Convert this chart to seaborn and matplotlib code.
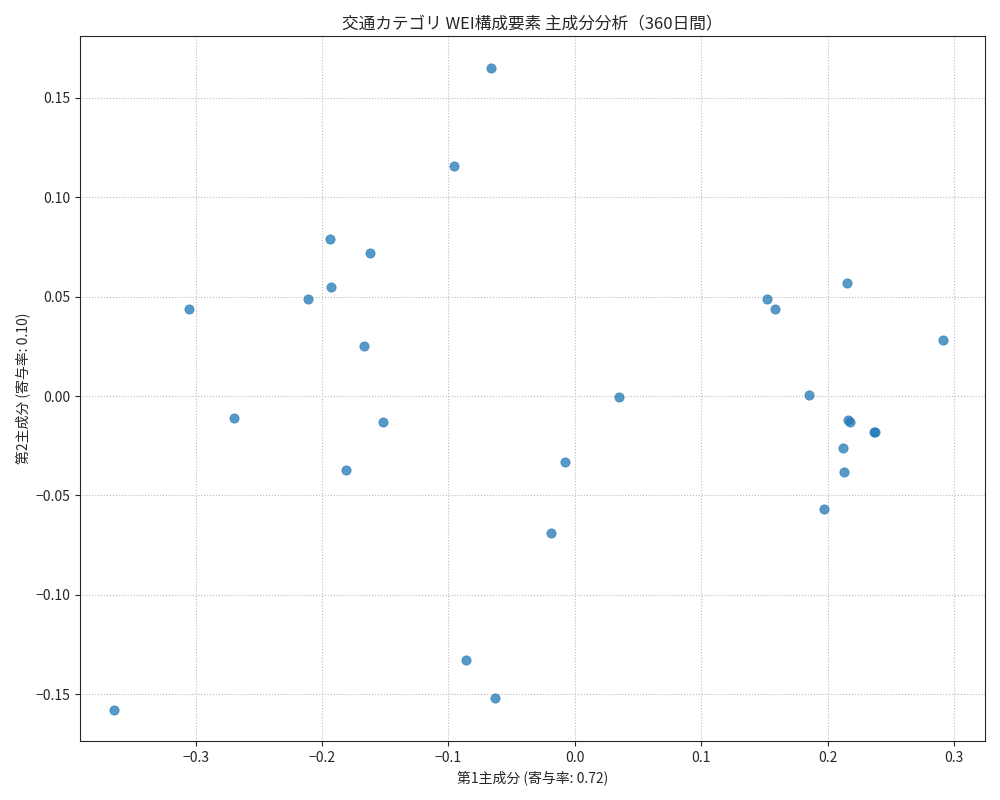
import matplotlib
matplotlib.use("Agg")
import matplotlib.pyplot as plt
import seaborn as sns
import pandas as pd

pc1 = [-0.066, -0.096, -0.194, -0.162, -0.211, -0.193, -0.305, -0.167, -0.270, -0.152,
       -0.181, -0.008, 0.035, -0.019, -0.086, -0.063, -0.365, 0.152, 0.158, 0.215,
       0.291, 0.185, 0.216, 0.218, 0.237, 0.2375, 0.212, 0.213, 0.197]
pc2 = [0.165, 0.116, 0.079, 0.072, 0.049, 0.055, 0.044, 0.025, -0.011, -0.013,
       -0.037, -0.033, -0.0005, -0.069, -0.133, -0.152, -0.158, 0.049, 0.044, 0.057,
       0.028, 0.0005, -0.012, -0.013, -0.018, -0.018, -0.026, -0.038, -0.057]

sns.set_style("ticks")
plt.rcParams['font.family'] = ['Noto Sans CJK JP', 'DejaVu Sans']
plt.rcParams['axes.unicode_minus'] = True

df = pd.DataFrame({"pc1": pc1, "pc2": pc2})
fig, ax = plt.subplots(figsize=(10, 8), dpi=100)
sns.scatterplot(data=df, x="pc1", y="pc2", ax=ax, color="#1f77b4", alpha=0.75,
                s=45, edgecolor="#1f77b4", linewidth=0.5)
ax.grid(True, linestyle=":", color="#bbbbbb")
ax.set_xlabel("第1主成分 (寄与率: 0.72)")
ax.set_ylabel("第2主成分 (寄与率: 0.10)")
ax.set_title("交通カテゴリ WEI構成要素 主成分分析（360日間）")
ax.set_xlim(-0.3915, 0.3245)
ax.set_ylim(-0.1735, 0.181)
fig.tight_layout()
fig.savefig("out.png")
